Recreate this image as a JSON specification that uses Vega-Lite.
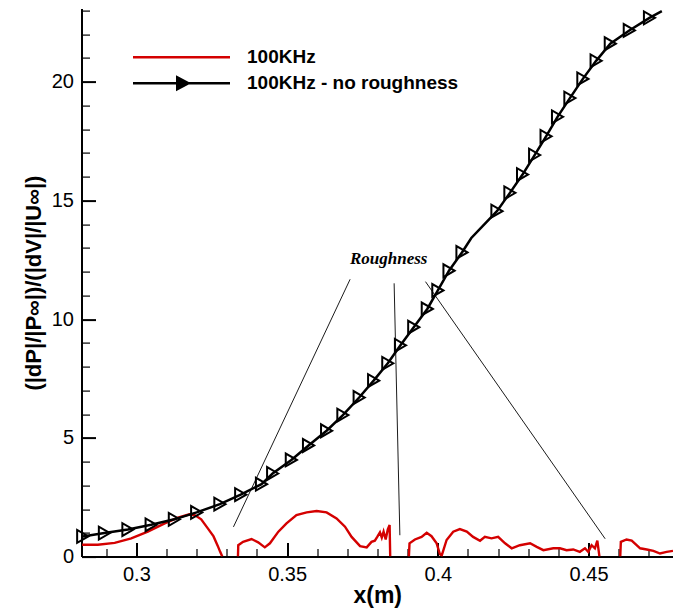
{
  "$schema": "https://vega.github.io/schema/vega-lite/v6.json",
  "width": 591.5,
  "height": 548,
  "autosize": {"type": "none"},
  "padding": {"left": 81.5, "top": 8.6, "right": 0, "bottom": 54.4},
  "config": {"view": {"stroke": null}, "font": "Liberation Sans"},
  "datasets": {
    "curves": [
      {"s": "100KHz", "g": "r1", "x": 0.2820, "y": 0.50},
      {"s": "100KHz", "g": "r1", "x": 0.2872, "y": 0.50},
      {"s": "100KHz", "g": "r1", "x": 0.2928, "y": 0.58},
      {"s": "100KHz", "g": "r1", "x": 0.2983, "y": 0.77},
      {"s": "100KHz", "g": "r1", "x": 0.3038, "y": 1.05},
      {"s": "100KHz", "g": "r1", "x": 0.3094, "y": 1.40},
      {"s": "100KHz", "g": "r1", "x": 0.3138, "y": 1.64},
      {"s": "100KHz", "g": "r1", "x": 0.3176, "y": 1.78},
      {"s": "100KHz", "g": "r1", "x": 0.3195, "y": 1.74},
      {"s": "100KHz", "g": "r1", "x": 0.3215, "y": 1.57},
      {"s": "100KHz", "g": "r1", "x": 0.3237, "y": 1.19},
      {"s": "100KHz", "g": "r1", "x": 0.3256, "y": 0.85},
      {"s": "100KHz", "g": "r1", "x": 0.3270, "y": 0.45},
      {"s": "100KHz", "g": "r1", "x": 0.3278, "y": 0.20},
      {"s": "100KHz", "g": "r1", "x": 0.3285, "y": 0.0},
      {"s": "100KHz", "g": "r2", "x": 0.3337, "y": 0.0},
      {"s": "100KHz", "g": "r2", "x": 0.3338, "y": 0.48},
      {"s": "100KHz", "g": "r2", "x": 0.3354, "y": 0.62},
      {"s": "100KHz", "g": "r2", "x": 0.3382, "y": 0.74},
      {"s": "100KHz", "g": "r2", "x": 0.3404, "y": 0.60},
      {"s": "100KHz", "g": "r2", "x": 0.3426, "y": 0.39},
      {"s": "100KHz", "g": "r2", "x": 0.3443, "y": 0.56},
      {"s": "100KHz", "g": "r2", "x": 0.3471, "y": 1.05},
      {"s": "100KHz", "g": "r2", "x": 0.3498, "y": 1.40},
      {"s": "100KHz", "g": "r2", "x": 0.3531, "y": 1.75},
      {"s": "100KHz", "g": "r2", "x": 0.3565, "y": 1.86},
      {"s": "100KHz", "g": "r2", "x": 0.3598, "y": 1.92},
      {"s": "100KHz", "g": "r2", "x": 0.3631, "y": 1.86},
      {"s": "100KHz", "g": "r2", "x": 0.3664, "y": 1.61},
      {"s": "100KHz", "g": "r2", "x": 0.3692, "y": 1.26},
      {"s": "100KHz", "g": "r2", "x": 0.3714, "y": 0.83},
      {"s": "100KHz", "g": "r2", "x": 0.3742, "y": 0.44},
      {"s": "100KHz", "g": "r2", "x": 0.3764, "y": 0.39},
      {"s": "100KHz", "g": "r2", "x": 0.3780, "y": 0.62},
      {"s": "100KHz", "g": "r2", "x": 0.3791, "y": 0.67},
      {"s": "100KHz", "g": "r2", "x": 0.3799, "y": 0.83},
      {"s": "100KHz", "g": "r2", "x": 0.3808, "y": 1.02},
      {"s": "100KHz", "g": "r2", "x": 0.3814, "y": 0.80},
      {"s": "100KHz", "g": "r2", "x": 0.3820, "y": 1.05},
      {"s": "100KHz", "g": "r2", "x": 0.3827, "y": 0.72},
      {"s": "100KHz", "g": "r2", "x": 0.3834, "y": 1.15},
      {"s": "100KHz", "g": "r2", "x": 0.3840, "y": 1.33},
      {"s": "100KHz", "g": "r2", "x": 0.3842, "y": 0.0},
      {"s": "100KHz", "g": "r3", "x": 0.3904, "y": 0.0},
      {"s": "100KHz", "g": "r3", "x": 0.3906, "y": 0.56},
      {"s": "100KHz", "g": "r3", "x": 0.3924, "y": 0.72},
      {"s": "100KHz", "g": "r3", "x": 0.3946, "y": 0.83},
      {"s": "100KHz", "g": "r3", "x": 0.3963, "y": 1.00},
      {"s": "100KHz", "g": "r3", "x": 0.3979, "y": 0.86},
      {"s": "100KHz", "g": "r3", "x": 0.3996, "y": 0.56},
      {"s": "100KHz", "g": "r3", "x": 0.4007, "y": 0.10},
      {"s": "100KHz", "g": "r3", "x": 0.4013, "y": 0.05},
      {"s": "100KHz", "g": "r3", "x": 0.4029, "y": 0.70},
      {"s": "100KHz", "g": "r3", "x": 0.4051, "y": 1.05},
      {"s": "100KHz", "g": "r3", "x": 0.4073, "y": 1.16},
      {"s": "100KHz", "g": "r3", "x": 0.4096, "y": 1.05},
      {"s": "100KHz", "g": "r3", "x": 0.4117, "y": 0.83},
      {"s": "100KHz", "g": "r3", "x": 0.4140, "y": 0.67},
      {"s": "100KHz", "g": "r3", "x": 0.4156, "y": 0.83},
      {"s": "100KHz", "g": "r3", "x": 0.4178, "y": 0.77},
      {"s": "100KHz", "g": "r3", "x": 0.4200, "y": 0.83},
      {"s": "100KHz", "g": "r3", "x": 0.4223, "y": 0.56},
      {"s": "100KHz", "g": "r3", "x": 0.4245, "y": 0.35},
      {"s": "100KHz", "g": "r3", "x": 0.4272, "y": 0.48},
      {"s": "100KHz", "g": "r3", "x": 0.4306, "y": 0.56},
      {"s": "100KHz", "g": "r3", "x": 0.4328, "y": 0.41},
      {"s": "100KHz", "g": "r3", "x": 0.4350, "y": 0.27},
      {"s": "100KHz", "g": "r3", "x": 0.4383, "y": 0.35},
      {"s": "100KHz", "g": "r3", "x": 0.4405, "y": 0.35},
      {"s": "100KHz", "g": "r3", "x": 0.4427, "y": 0.27},
      {"s": "100KHz", "g": "r3", "x": 0.4449, "y": 0.30},
      {"s": "100KHz", "g": "r3", "x": 0.4471, "y": 0.20},
      {"s": "100KHz", "g": "r3", "x": 0.4488, "y": 0.35},
      {"s": "100KHz", "g": "r3", "x": 0.4499, "y": 0.20},
      {"s": "100KHz", "g": "r3", "x": 0.4510, "y": 0.48},
      {"s": "100KHz", "g": "r3", "x": 0.4521, "y": 0.35},
      {"s": "100KHz", "g": "r3", "x": 0.4529, "y": 0.67},
      {"s": "100KHz", "g": "r3", "x": 0.4536, "y": 0.0},
      {"s": "100KHz", "g": "r4", "x": 0.4605, "y": 0.0},
      {"s": "100KHz", "g": "r4", "x": 0.4607, "y": 0.62},
      {"s": "100KHz", "g": "r4", "x": 0.4626, "y": 0.72},
      {"s": "100KHz", "g": "r4", "x": 0.4643, "y": 0.67},
      {"s": "100KHz", "g": "r4", "x": 0.4671, "y": 0.35},
      {"s": "100KHz", "g": "r4", "x": 0.4693, "y": 0.30},
      {"s": "100KHz", "g": "r4", "x": 0.4715, "y": 0.24},
      {"s": "100KHz", "g": "r4", "x": 0.4737, "y": 0.13},
      {"s": "100KHz", "g": "r4", "x": 0.4759, "y": 0.20},
      {"s": "100KHz", "g": "r4", "x": 0.4780, "y": 0.24},
      {"s": "100KHz - no roughness", "g": "b", "x": 0.2822, "y": 0.85, "m": 1},
      {"s": "100KHz - no roughness", "g": "b", "x": 0.2894, "y": 0.99, "m": 1},
      {"s": "100KHz - no roughness", "g": "b", "x": 0.2972, "y": 1.14, "m": 1},
      {"s": "100KHz - no roughness", "g": "b", "x": 0.3049, "y": 1.34, "m": 1},
      {"s": "100KHz - no roughness", "g": "b", "x": 0.3126, "y": 1.57, "m": 1},
      {"s": "100KHz - no roughness", "g": "b", "x": 0.3200, "y": 1.86, "m": 1},
      {"s": "100KHz - no roughness", "g": "b", "x": 0.3277, "y": 2.21, "m": 1},
      {"s": "100KHz - no roughness", "g": "b", "x": 0.3346, "y": 2.61, "m": 1},
      {"s": "100KHz - no roughness", "g": "b", "x": 0.3415, "y": 3.05, "m": 1},
      {"s": "100KHz - no roughness", "g": "b", "x": 0.3452, "y": 3.50, "m": 1},
      {"s": "100KHz - no roughness", "g": "b", "x": 0.3514, "y": 4.07, "m": 1},
      {"s": "100KHz - no roughness", "g": "b", "x": 0.3571, "y": 4.68, "m": 1},
      {"s": "100KHz - no roughness", "g": "b", "x": 0.3631, "y": 5.30, "m": 1},
      {"s": "100KHz - no roughness", "g": "b", "x": 0.3685, "y": 5.96, "m": 1},
      {"s": "100KHz - no roughness", "g": "b", "x": 0.3739, "y": 6.70, "m": 1},
      {"s": "100KHz - no roughness", "g": "b", "x": 0.3787, "y": 7.41, "m": 1},
      {"s": "100KHz - no roughness", "g": "b", "x": 0.3834, "y": 8.14, "m": 1},
      {"s": "100KHz - no roughness", "g": "b", "x": 0.3876, "y": 8.90, "m": 1},
      {"s": "100KHz - no roughness", "g": "b", "x": 0.3920, "y": 9.66, "m": 1},
      {"s": "100KHz - no roughness", "g": "b", "x": 0.3965, "y": 10.43, "m": 1},
      {"s": "100KHz - no roughness", "g": "b", "x": 0.4000, "y": 11.21, "m": 1},
      {"s": "100KHz - no roughness", "g": "b", "x": 0.4037, "y": 12.04, "m": 1},
      {"s": "100KHz - no roughness", "g": "b", "x": 0.4080, "y": 12.81, "m": 1},
      {"s": "100KHz - no roughness", "g": "b", "x": 0.4111, "y": 13.42, "m": 0},
      {"s": "100KHz - no roughness", "g": "b", "x": 0.4196, "y": 14.55, "m": 1},
      {"s": "100KHz - no roughness", "g": "b", "x": 0.4239, "y": 15.32, "m": 1},
      {"s": "100KHz - no roughness", "g": "b", "x": 0.4281, "y": 16.09, "m": 1},
      {"s": "100KHz - no roughness", "g": "b", "x": 0.4321, "y": 16.91, "m": 1},
      {"s": "100KHz - no roughness", "g": "b", "x": 0.4359, "y": 17.70, "m": 1},
      {"s": "100KHz - no roughness", "g": "b", "x": 0.4397, "y": 18.52, "m": 1},
      {"s": "100KHz - no roughness", "g": "b", "x": 0.4438, "y": 19.31, "m": 1},
      {"s": "100KHz - no roughness", "g": "b", "x": 0.4481, "y": 20.12, "m": 1},
      {"s": "100KHz - no roughness", "g": "b", "x": 0.4525, "y": 20.88, "m": 1},
      {"s": "100KHz - no roughness", "g": "b", "x": 0.4572, "y": 21.60, "m": 1},
      {"s": "100KHz - no roughness", "g": "b", "x": 0.4635, "y": 22.16, "m": 1},
      {"s": "100KHz - no roughness", "g": "b", "x": 0.4702, "y": 22.69, "m": 1},
      {"s": "100KHz - no roughness", "g": "b", "x": 0.4743, "y": 22.97, "m": 0}
    ],
    "ann": [
      {"x": 0.3709, "y": 11.68, "x2": 0.3322, "y2": 1.25},
      {"x": 0.3855, "y": 11.51, "x2": 0.3874, "y2": 0.90},
      {"x": 0.3959, "y": 11.58, "x2": 0.4555, "y2": 0.75}
    ],
    "lbl": [
      {"x": 0.3837, "y": 12.53, "t": "Roughness"}
    ]
  },
  "resolve": {"axis": {"x": "independent", "y": "independent"}},
  "layer": [
    {
      "data": {"name": "curves"},
      "transform": [{"filter": "datum.s === '100KHz'"}],
      "mark": {"type": "line", "strokeWidth": 2.4, "clip": true},
      "encoding": {
        "x": {"field": "x", "type": "quantitative",
          "scale": {"domain": [0.2818, 0.478], "nice": false, "zero": false},
          "axis": {"orient": "bottom", "values": [0.3, 0.35, 0.4, 0.45], "format": ".2~f",
            "title": "x(m)", "titleFont": "Liberation Sans", "titleFontSize": 23, "titleFontWeight": "bold", "titleColor": "black", "titlePadding": 0,
            "labelFont": "Liberation Sans", "labelFontSize": 20, "labelColor": "black", "labelPadding": 22, "labelFlush": false,
            "tickSize": -14, "tickWidth": 2, "tickColor": "black", "domainColor": "black", "domainWidth": 2, "grid": false}},
        "y": {"field": "y", "type": "quantitative",
          "scale": {"domain": [0, 23.08], "nice": false, "zero": false},
          "axis": {"orient": "left", "values": [0, 5, 10, 15, 20],
            "title": "(|dP|/|P∞|)/(|dV|/|U∞|)", "titleFont": "Liberation Sans", "titleFontSize": 22, "titleFontWeight": "bold", "titleColor": "black", "titlePadding": 6,
            "labelFont": "Liberation Sans", "labelFontSize": 20, "labelColor": "black", "labelPadding": 22, "labelFlush": false,
            "tickSize": -14, "tickWidth": 2, "tickColor": "black", "domainColor": "black", "domainWidth": 2, "grid": false}},
        "color": {"field": "s", "type": "nominal",
          "scale": {"domain": ["100KHz", "100KHz - no roughness"], "range": ["#d40000", "#000000"]},
          "legend": {"orient": "none", "legendX": 88.5, "legendY": 37.2, "title": null, "padding": 0,
            "symbolSize": 400, "symbolStrokeWidth": 2.6, "labelOffset": 54, "rowPadding": 4,
            "labelFont": "Liberation Sans", "labelFontSize": 19, "labelFontWeight": "bold", "labelColor": "black", "labelLimit": 400,
            "encode": {"symbols": {"update": {
              "shape": {"signal": "datum.value === '100KHz' ? 'M-4.85,0L4.85,0' : 'M-4.85,0L4.85,0M-0.42,-0.58L0.68,0L-0.42,0.58Z'"},
              "fill": {"signal": "datum.value === '100KHz' ? 'transparent' : 'black'"}
            }}}}},
        "detail": {"field": "g"}
      }
    },
    {
      "data": {"name": "curves"},
      "transform": [{"filter": "datum.s === '100KHz - no roughness'"}],
      "mark": {"type": "line", "strokeWidth": 2.5, "clip": true},
      "encoding": {
        "x": {"field": "x", "type": "quantitative",
          "scale": {"domain": [0.2818, 0.478], "nice": false, "zero": false},
          "axis": {"orient": "bottom", "values": [0.29, 0.31, 0.32, 0.33, 0.34, 0.36, 0.37, 0.38, 0.39, 0.41, 0.42, 0.43, 0.44, 0.46, 0.47],
            "labels": false, "domain": false, "title": null, "tickSize": -8, "tickWidth": 1.2, "tickColor": "black", "grid": false}},
        "y": {"field": "y", "type": "quantitative",
          "scale": {"domain": [0, 23.08], "nice": false, "zero": false},
          "axis": {"orient": "left", "values": [1, 2, 3, 4, 6, 7, 8, 9, 11, 12, 13, 14, 16, 17, 18, 19, 21, 22, 23],
            "labels": false, "domain": false, "title": null, "tickSize": -8, "tickWidth": 1.2, "tickColor": "black", "grid": false}},
        "color": {"field": "s", "type": "nominal",
          "scale": {"domain": ["100KHz", "100KHz - no roughness"], "range": ["#d40000", "#000000"]}},
        "detail": {"field": "g"}
      }
    },
    {
      "data": {"name": "curves"},
      "transform": [{"filter": "datum.s === '100KHz - no roughness' && datum.m === 1"}],
      "mark": {"type": "point", "shape": "triangle-right", "filled": false, "stroke": "black", "strokeWidth": 2, "size": 165, "opacity": 1},
      "encoding": {
        "x": {"field": "x", "type": "quantitative", "scale": {"domain": [0.2818, 0.478], "nice": false, "zero": false}, "axis": null},
        "y": {"field": "y", "type": "quantitative", "scale": {"domain": [0, 23.08], "nice": false, "zero": false}, "axis": null}
      }
    },
    {
      "data": {"name": "ann"},
      "mark": {"type": "rule", "stroke": "black", "strokeWidth": 0.9},
      "encoding": {
        "x": {"field": "x", "type": "quantitative", "scale": {"domain": [0.2818, 0.478], "nice": false, "zero": false}, "axis": null},
        "y": {"field": "y", "type": "quantitative", "scale": {"domain": [0, 23.08], "nice": false, "zero": false}, "axis": null},
        "x2": {"field": "x2"},
        "y2": {"field": "y2"}
      }
    },
    {
      "data": {"name": "lbl"},
      "mark": {"type": "text", "font": "Liberation Serif", "fontSize": 17, "fontWeight": "bold", "fontStyle": "italic", "align": "center", "baseline": "middle", "color": "black"},
      "encoding": {
        "x": {"field": "x", "type": "quantitative", "scale": {"domain": [0.2818, 0.478], "nice": false, "zero": false}, "axis": null},
        "y": {"field": "y", "type": "quantitative", "scale": {"domain": [0, 23.08], "nice": false, "zero": false}, "axis": null},
        "text": {"field": "t"}
      }
    }
  ]
}
